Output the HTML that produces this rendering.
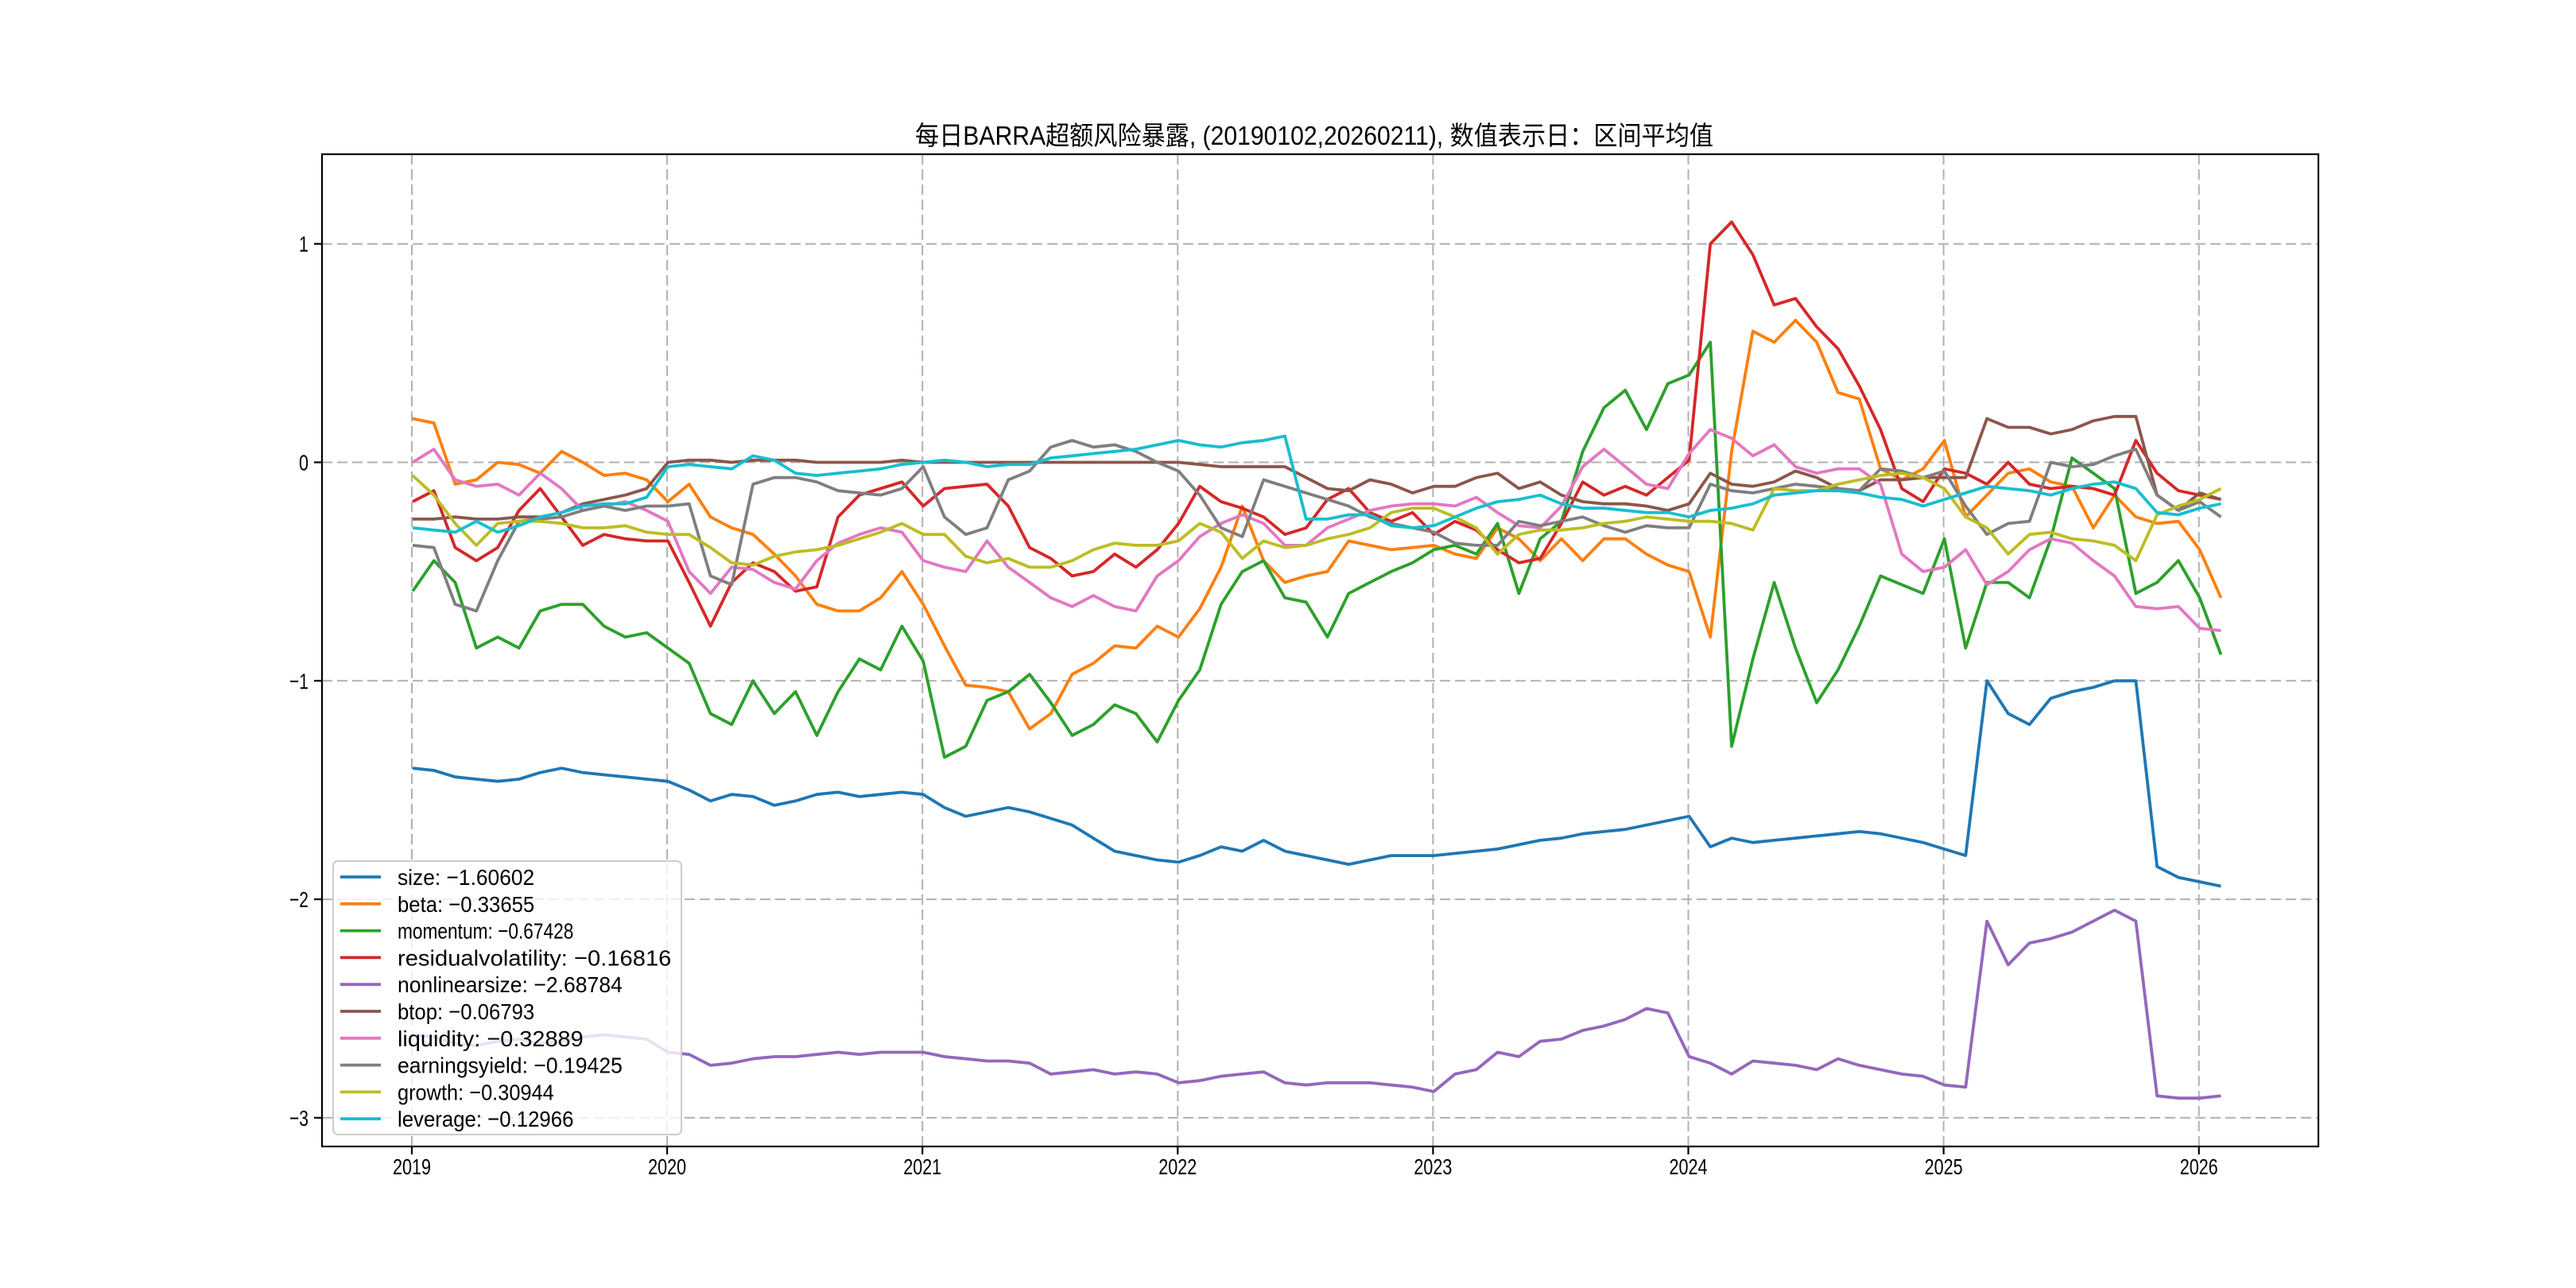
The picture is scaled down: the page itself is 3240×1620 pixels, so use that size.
<!DOCTYPE html>
<html><head><meta charset="utf-8"><style>html,body{margin:0;padding:0;background:#fff}svg{display:block}</style></head>
<body>
<svg id="chart" width="3240" height="1620" viewBox="0 0 3240 1620" xmlns="http://www.w3.org/2000/svg">
<rect x="0" y="0" width="3240" height="1620" fill="#fff"/>
<text x="1653" y="182" text-anchor="middle" font-family="'Liberation Sans','Noto Sans CJK SC',sans-serif" font-size="33" textLength="1004" lengthAdjust="spacingAndGlyphs">每日BARRA超额风险暴露, (20190102,20260211),  数值表示日：区间平均值</text>
<g id="grid"></g>
<g id="series"></g>
<rect x="405" y="194" width="2511" height="1248" fill="none" stroke="#000" stroke-width="2.2"/>
<g id="ticks"></g>
<g id="legend"></g>
</svg>
<script>
const names = ["size","beta","momentum","residualvolatility","nonlinearsize","btop","liquidity","earningsyield","growth","leverage"];
const legendValues = ["-1.60602","-0.33655","-0.67428","-0.16816","-2.68784","-0.06793","-0.32889","-0.19425","-0.30944","-0.12966"];
const colors = ["#1f77b4","#ff7f0e","#2ca02c","#d62728","#9467bd","#8c564b","#e377c2","#7f7f7f","#bcbd22","#17becf"];
const yTicks = [-3,-2,-1,0,1];
const xTicks = [2019,2020,2021,2022,2023,2024,2025,2026];
const startYear = 2019.003;
const sizeVals = [-1.40,-1.41,-1.44,-1.45,-1.46,-1.45,-1.42,-1.40,-1.42,-1.43,-1.44,-1.45,
-1.46,-1.50,-1.55,-1.52,-1.53,-1.57,-1.55,-1.52,-1.51,-1.53,-1.52,-1.51,
-1.52,-1.58,-1.62,-1.60,-1.58,-1.60,-1.63,-1.66,-1.72,-1.78,-1.80,-1.82,
-1.83,-1.80,-1.76,-1.78,-1.73,-1.78,-1.80,-1.82,-1.84,-1.82,-1.80,-1.80,
-1.80,-1.79,-1.78,-1.77,-1.75,-1.73,-1.72,-1.70,-1.69,-1.68,-1.66,-1.64,
-1.62,-1.76,-1.72,-1.74,-1.73,-1.72,-1.71,-1.70,-1.69,-1.70,-1.72,-1.74,
-1.77,-1.80,-1.00,-1.15,-1.20,-1.08,-1.05,-1.03,-1.00,-1.00,-1.85,-1.90,
-1.92,-1.94];
const betaVals = [0.20,0.18,-0.10,-0.08,0.00,-0.01,-0.05,0.05,0.00,-0.06,-0.05,-0.08,
-0.18,-0.10,-0.25,-0.30,-0.33,-0.42,-0.52,-0.65,-0.68,-0.68,-0.62,-0.50,
-0.65,-0.84,-1.02,-1.03,-1.05,-1.22,-1.15,-0.97,-0.92,-0.84,-0.85,-0.75,
-0.80,-0.67,-0.48,-0.20,-0.45,-0.55,-0.52,-0.50,-0.36,-0.38,-0.40,-0.39,
-0.38,-0.42,-0.44,-0.30,-0.35,-0.45,-0.35,-0.45,-0.35,-0.35,-0.42,-0.47,
-0.50,-0.80,0.05,0.60,0.55,0.65,0.55,0.32,0.29,-0.03,-0.08,-0.03,
0.10,-0.25,-0.15,-0.05,-0.03,-0.09,-0.11,-0.30,-0.15,-0.25,-0.28,-0.27,
-0.40,-0.62];
const momentumVals = [-0.59,-0.45,-0.55,-0.85,-0.80,-0.85,-0.68,-0.65,-0.65,-0.75,-0.80,-0.78,
-0.85,-0.92,-1.15,-1.20,-1.00,-1.15,-1.05,-1.25,-1.05,-0.90,-0.95,-0.75,
-0.91,-1.35,-1.30,-1.09,-1.05,-0.97,-1.10,-1.25,-1.20,-1.11,-1.15,-1.28,
-1.09,-0.95,-0.65,-0.50,-0.45,-0.62,-0.64,-0.80,-0.60,-0.55,-0.50,-0.46,
-0.40,-0.38,-0.42,-0.28,-0.60,-0.35,-0.27,0.05,0.25,0.33,0.15,0.36,
0.40,0.55,-1.30,-0.90,-0.55,-0.85,-1.10,-0.95,-0.75,-0.52,-0.56,-0.60,
-0.35,-0.85,-0.55,-0.55,-0.62,-0.35,0.02,-0.05,-0.12,-0.60,-0.55,-0.45,
-0.62,-0.88];
const resvolVals = [-0.18,-0.13,-0.39,-0.45,-0.39,-0.22,-0.12,-0.25,-0.38,-0.33,-0.35,-0.36,
-0.36,-0.55,-0.75,-0.55,-0.46,-0.50,-0.59,-0.57,-0.25,-0.15,-0.12,-0.09,
-0.20,-0.12,-0.11,-0.10,-0.20,-0.39,-0.44,-0.52,-0.50,-0.42,-0.48,-0.40,
-0.28,-0.11,-0.18,-0.21,-0.25,-0.33,-0.30,-0.17,-0.12,-0.23,-0.27,-0.23,
-0.33,-0.27,-0.31,-0.40,-0.46,-0.44,-0.28,-0.09,-0.15,-0.11,-0.15,-0.07,
0.01,1.00,1.10,0.95,0.72,0.75,0.62,0.52,0.35,0.15,-0.12,-0.18,
-0.03,-0.05,-0.10,0.00,-0.10,-0.12,-0.11,-0.12,-0.15,0.10,-0.05,-0.13,
-0.15,-0.17];
const nonlinVals = [-2.62,-2.63,-2.66,-2.67,-2.65,-2.64,-2.66,-2.65,-2.63,-2.62,-2.63,-2.64,
-2.70,-2.71,-2.76,-2.75,-2.73,-2.72,-2.72,-2.71,-2.70,-2.71,-2.70,-2.70,
-2.70,-2.72,-2.73,-2.74,-2.74,-2.75,-2.80,-2.79,-2.78,-2.80,-2.79,-2.80,
-2.84,-2.83,-2.81,-2.80,-2.79,-2.84,-2.85,-2.84,-2.84,-2.84,-2.85,-2.86,
-2.88,-2.80,-2.78,-2.70,-2.72,-2.65,-2.64,-2.60,-2.58,-2.55,-2.50,-2.52,
-2.72,-2.75,-2.80,-2.74,-2.75,-2.76,-2.78,-2.73,-2.76,-2.78,-2.80,-2.81,
-2.85,-2.86,-2.10,-2.30,-2.20,-2.18,-2.15,-2.10,-2.05,-2.10,-2.90,-2.91,
-2.91,-2.90];
const btopVals = [-0.26,-0.26,-0.25,-0.26,-0.26,-0.25,-0.25,-0.23,-0.19,-0.17,-0.15,-0.12,
0.00,0.01,0.01,0.00,0.01,0.01,0.01,0.00,0.00,0.00,0.00,0.01,
0.00,0.00,0.00,0.00,0.00,0.00,0.00,0.00,0.00,0.00,0.00,0.00,
0.00,-0.01,-0.02,-0.02,-0.02,-0.02,-0.07,-0.12,-0.13,-0.08,-0.10,-0.14,
-0.11,-0.11,-0.07,-0.05,-0.12,-0.09,-0.15,-0.18,-0.19,-0.19,-0.20,-0.22,
-0.19,-0.05,-0.10,-0.11,-0.09,-0.04,-0.07,-0.12,-0.13,-0.08,-0.08,-0.07,
-0.07,-0.07,0.20,0.16,0.16,0.13,0.15,0.19,0.21,0.21,-0.15,-0.22,
-0.14,-0.17];
const liquidityVals = [0.00,0.06,-0.08,-0.11,-0.10,-0.15,-0.05,-0.12,-0.22,-0.20,-0.18,-0.22,
-0.27,-0.50,-0.60,-0.48,-0.49,-0.55,-0.58,-0.45,-0.37,-0.33,-0.30,-0.32,
-0.45,-0.48,-0.50,-0.36,-0.48,-0.55,-0.62,-0.66,-0.61,-0.66,-0.68,-0.52,
-0.45,-0.34,-0.28,-0.24,-0.28,-0.38,-0.38,-0.30,-0.26,-0.22,-0.20,-0.19,
-0.19,-0.20,-0.16,-0.23,-0.29,-0.30,-0.20,-0.02,0.06,-0.02,-0.10,-0.12,
0.04,0.15,0.11,0.03,0.08,-0.02,-0.05,-0.03,-0.03,-0.10,-0.42,-0.50,
-0.48,-0.40,-0.56,-0.50,-0.40,-0.35,-0.37,-0.45,-0.52,-0.66,-0.67,-0.66,
-0.76,-0.77];
const earningsVals = [-0.38,-0.39,-0.65,-0.68,-0.45,-0.27,-0.26,-0.25,-0.22,-0.20,-0.22,-0.20,
-0.20,-0.19,-0.52,-0.56,-0.10,-0.07,-0.07,-0.09,-0.13,-0.14,-0.15,-0.12,
-0.02,-0.25,-0.33,-0.30,-0.08,-0.04,0.07,0.10,0.07,0.08,0.05,0.00,
-0.04,-0.15,-0.30,-0.34,-0.08,-0.11,-0.14,-0.17,-0.20,-0.25,-0.28,-0.30,
-0.32,-0.37,-0.38,-0.38,-0.27,-0.29,-0.27,-0.25,-0.29,-0.32,-0.29,-0.30,
-0.30,-0.10,-0.13,-0.14,-0.12,-0.10,-0.11,-0.12,-0.13,-0.03,-0.04,-0.07,
-0.04,-0.20,-0.33,-0.28,-0.27,0.00,-0.02,-0.01,0.03,0.06,-0.15,-0.22,
-0.18,-0.25];
const growthVals = [-0.06,-0.15,-0.28,-0.38,-0.28,-0.27,-0.27,-0.28,-0.30,-0.30,-0.29,-0.32,
-0.33,-0.33,-0.39,-0.46,-0.47,-0.43,-0.41,-0.40,-0.38,-0.35,-0.32,-0.28,
-0.33,-0.33,-0.43,-0.46,-0.44,-0.48,-0.48,-0.45,-0.40,-0.37,-0.38,-0.38,
-0.36,-0.28,-0.32,-0.44,-0.36,-0.39,-0.38,-0.35,-0.33,-0.30,-0.23,-0.21,
-0.21,-0.25,-0.30,-0.42,-0.33,-0.31,-0.31,-0.30,-0.28,-0.27,-0.25,-0.26,
-0.27,-0.27,-0.28,-0.31,-0.12,-0.13,-0.13,-0.10,-0.08,-0.06,-0.05,-0.07,
-0.12,-0.25,-0.30,-0.42,-0.33,-0.32,-0.35,-0.36,-0.38,-0.45,-0.24,-0.20,
-0.17,-0.12];
const leverageVals = [-0.30,-0.31,-0.32,-0.27,-0.32,-0.29,-0.25,-0.23,-0.20,-0.19,-0.19,-0.16,
-0.02,-0.01,-0.02,-0.03,0.03,0.01,-0.05,-0.06,-0.05,-0.04,-0.03,-0.01,
0.00,0.01,0.00,-0.02,-0.01,-0.01,0.02,0.03,0.04,0.05,0.06,0.08,
0.10,0.08,0.07,0.09,0.10,0.12,-0.26,-0.26,-0.24,-0.24,-0.29,-0.30,
-0.29,-0.25,-0.21,-0.18,-0.17,-0.15,-0.19,-0.21,-0.21,-0.22,-0.23,-0.23,
-0.25,-0.22,-0.21,-0.19,-0.15,-0.14,-0.13,-0.13,-0.14,-0.16,-0.17,-0.20,
-0.17,-0.14,-0.11,-0.12,-0.13,-0.15,-0.12,-0.10,-0.09,-0.12,-0.23,-0.24,
-0.21,-0.19];
const allSeries = [sizeVals,betaVals,momentumVals,resvolVals,nonlinVals,btopVals,liquidityVals,earningsVals,growthVals,leverageVals];

const NS = "http://www.w3.org/2000/svg";
const L=405,R=2916,T=194,B=1442;
function xs(yr){return 518 + (yr-2019)*321.1;}
function ys(v){return 581.5 - v*274.8;}
function mk(tag, attrs, parent){const e=document.createElementNS(NS,tag);for(const k in attrs)e.setAttribute(k,attrs[k]);parent.appendChild(e);return e;}
const grid=document.getElementById('grid'), ticks=document.getElementById('ticks'), ser=document.getElementById('series'), leg=document.getElementById('legend');
const FONT="'Liberation Sans','Noto Sans CJK SC',sans-serif";
yTicks.forEach(v=>{
  const y=ys(v);
  const g=mk('line',{x1:L,x2:R,y1:y,y2:y,stroke:'#b0b0b0','stroke-width':2,'stroke-dasharray':'13 6'},grid);
  
  
  const t=mk('line',{x1:L-10,x2:L,y1:y,y2:y,stroke:'#000','stroke-width':2.2},ticks);
  
  
  const lab=String(v).replace('-','\u2212');
  const tx=mk('text',{x:L-17,y:y+10,'text-anchor':'end','font-family':FONT,'font-size':28,textLength:lab.length*12,lengthAdjust:'spacingAndGlyphs'},ticks);
  tx.textContent=lab;
  
  
});
xTicks.forEach(yr=>{
  const x=xs(yr);
  const g=mk('line',{x1:x,x2:x,y1:T,y2:B,stroke:'#b0b0b0','stroke-width':2,'stroke-dasharray':'13 6'},grid);
  
  
  const t=mk('line',{x1:x,x2:x,y1:B,y2:B+10,stroke:'#000','stroke-width':2.2},ticks);
  
  
  const tx=mk('text',{x:x,y:1477,'text-anchor':'middle','font-family':FONT,'font-size':28,textLength:48,lengthAdjust:'spacingAndGlyphs'},ticks);
  tx.textContent=String(yr);
  
  
});
allSeries.forEach((vals,si)=>{
  const pts=vals.map((v,i)=>xs(startYear+i/12).toFixed(1)+','+ys(v).toFixed(1)).join(' ');
  const p=mk('polyline',{points:pts,fill:'none',stroke:colors[si],'stroke-width':3.8,'stroke-linejoin':'round'},ser);
  
  
});
const box=mk('rect',{x:419,y:1083,width:438,height:344,rx:6,fill:'#fff','fill-opacity':0.8,stroke:'#cccccc','stroke-width':2},leg);


names.forEach((n,i)=>{
  const y=1103+i*33.8;
  const ln=mk('line',{x1:428,x2:479,y1:y,y2:y,stroke:colors[i],'stroke-width':3.8},leg);
  
  
  const label=n+': '+legendValues[i].replace('-','\u2212');
  const t=mk('text',{x:500,y:y+10,'font-family':FONT,'font-size':28,textLength:label.length*12.3,lengthAdjust:'spacingAndGlyphs'},leg);
  t.textContent=label;
  
  
});
</script>
</body></html>
